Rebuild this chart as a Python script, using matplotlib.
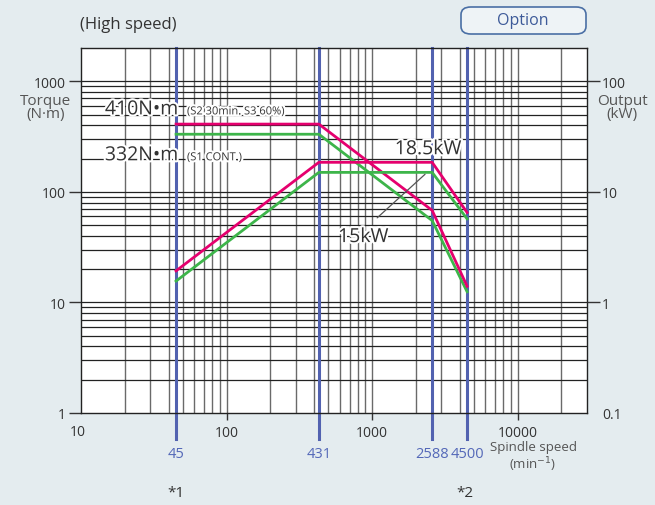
import matplotlib.pyplot as plt
import matplotlib.patheffects as pe
from matplotlib.patches import FancyBboxPatch
import numpy as np

plt.rcParams['font.family'] = ['Open Sans', 'DejaVu Sans']

# data
speed = [45, 431, 2588, 4500]
torque_s2 = [410, 410, 68, 14]
torque_s1 = [332, 332, 55, 12.5]
power_s2 = [1.93, 18.5, 18.5, 6.5]
power_s1 = [1.56, 15, 15, 5.7]
marker_speeds = [45, 431, 2588, 4500]
x_ticks = [10, 100, 1000, 10000]
torque_ticks = [1, 10, 100, 1000]
power_ticks = [0.1, 1, 10, 100]

BG = "#e4ecef"
PINK = "#e5006e"
GREEN = "#3db54a"
BLUE = "#5262b0"
BLUE_TXT = "#5468b8"
TXT = "#333333"

fig = plt.figure(figsize=(6.55, 5.06), dpi=100, facecolor=BG)
ax = fig.add_axes([81 / 655, 92 / 506, 506 / 655, 365 / 506])
ax.set_facecolor("white")
ax.set_xscale("log")
ax.set_yscale("log")
ax.set_xlim(10, 30000)
ax.set_ylim(1, 2000)

# grid
for dec in [10, 100, 1000, 10000]:
    for k in range(1, 10):
        v = dec * k
        if 10 < v < 30000:
            ax.axvline(v, color="#6a6a6a", lw=1.0, zorder=1)
for dec in [1, 10, 100, 1000]:
    for k in range(1, 10):
        v = dec * k
        if 1 < v < 2000:
            ax.axhline(v, color="#222222", lw=0.9, zorder=1)

for s in ax.spines.values():
    s.set_color("#222222")
    s.set_linewidth(1.0)

# blue speed markers
for s in marker_speeds:
    ax.axvline(s, ymin=-0.072, ymax=1, color=BLUE, lw=2.2, zorder=2, clip_on=False)
    ax.text(s, -0.11, str(s), transform=ax.get_xaxis_transform(), ha="center",
            va="center", color=BLUE_TXT, fontsize=10.5)

ax.plot(speed, torque_s1, color=GREEN, lw=2.0, zorder=4)
ax.plot(speed, torque_s2, color=PINK, lw=2.0, zorder=5)

ax.set_xticks(x_ticks)
ax.set_xticklabels([""] + [str(v) for v in x_ticks[1:]], fontsize=10, color=TXT)
ax.xaxis.set_minor_locator(plt.NullLocator())
ax.tick_params(axis="x", length=5, width=1, color="#333", pad=4)
ax.xaxis.get_major_ticks()[0].tick1line.set_visible(False)
ax.text(9.55, -0.05, str(x_ticks[0]), transform=ax.get_xaxis_transform(),
        ha="center", va="center", fontsize=10, color=TXT)

ax.set_yticks(torque_ticks)
ax.set_yticklabels([str(v) for v in torque_ticks], fontsize=10, color=TXT)
ax.yaxis.set_minor_locator(plt.NullLocator())
ax.tick_params(axis="y", length=9, width=1, color="#333", pad=2)
ax.yaxis.get_major_ticks()[0].tick1line.set_visible(False)

ax2 = ax.twinx()
ax2.set_yscale("log")
ax2.set_ylim(0.1, 200)
ax2.plot(speed, power_s1, color=GREEN, lw=2.0, zorder=4)
ax2.plot(speed, power_s2, color=PINK, lw=2.0, zorder=5)
ax2.set_yticks(power_ticks)
ax2.set_yticklabels([str(v) for v in power_ticks], fontsize=10, color=TXT)
ax2.yaxis.set_minor_locator(plt.NullLocator())
ax2.tick_params(axis="y", length=9, width=1, color="#333", pad=2)
ax2.yaxis.get_major_ticks()[0].tick2line.set_visible(False)
for s in ax2.spines.values():
    s.set_visible(False)

halo = [pe.withStroke(linewidth=3, foreground="white")]
ax.text(14.6, 502, "410N•m", fontsize=14, color=TXT, va="baseline", path_effects=halo, zorder=6)
ax.text(53.5, 502, "(S2 30min. S3 60%)", fontsize=8, color=TXT, va="baseline", path_effects=halo, zorder=6)
ax.text(14.6, 193, "332N•m", fontsize=14, color=TXT, va="baseline", path_effects=halo, zorder=6)
ax.text(53.5, 193, "(S1 CONT.)", fontsize=8, color=TXT, va="baseline", path_effects=halo, zorder=6)

ax2.text(2425, 24.3, "18.5kW", fontsize=14, color=TXT, ha="center", va="center",
         path_effects=halo, zorder=6)
ax2.annotate("", xy=(2390, 15), xytext=(1050, 5.6),
             arrowprops=dict(arrowstyle="-", color="#555555", lw=0.9), zorder=6)
ax2.text(870, 3.9, "15kW", fontsize=14, color=TXT, ha="center", va="center",
         path_effects=halo, zorder=6)

# outer labels
fig.text(80 / 655, 1 - 25 / 506, "(High speed)", fontsize=12, color=TXT, va="center")
fig.text(46 / 655, 1 - 108 / 506, "Torque\n(N·m)", fontsize=11, color="#555",
         ha="center", va="center", linespacing=0.85)
fig.text(622 / 655, 1 - 108 / 506, "Output\n(kW)", fontsize=11, color="#555",
         ha="center", va="center", linespacing=0.85)
fig.text(533 / 655, 1 - 448 / 506, "Spindle speed", fontsize=9.5, color="#555",
         ha="center", va="center")
fig.text(533 / 655, 1 - 465 / 506, "(min$^{-1}$)", fontsize=9.5, color="#555",
         ha="center", va="center")
fig.text(176 / 655, 1 - 494 / 506, "*1", fontsize=11, color=TXT, ha="center", va="center")
fig.text(465 / 655, 1 - 494 / 506, "*2", fontsize=11, color=TXT, ha="center", va="center")

box = FancyBboxPatch((461 / 655, 1 - 35 / 506), 125 / 655, 27 / 506,
                     boxstyle="round,pad=0,rounding_size=0.015",
                     transform=fig.transFigure, facecolor="#eef3f6",
                     edgecolor="#4a6fa5", lw=1.2)
fig.patches.append(box)
fig.text(523 / 655, 1 - 21 / 506, "Option", fontsize=11.5, color="#3d5a99",
         ha="center", va="center")

fig.savefig("out.png", dpi=100, facecolor=BG)
